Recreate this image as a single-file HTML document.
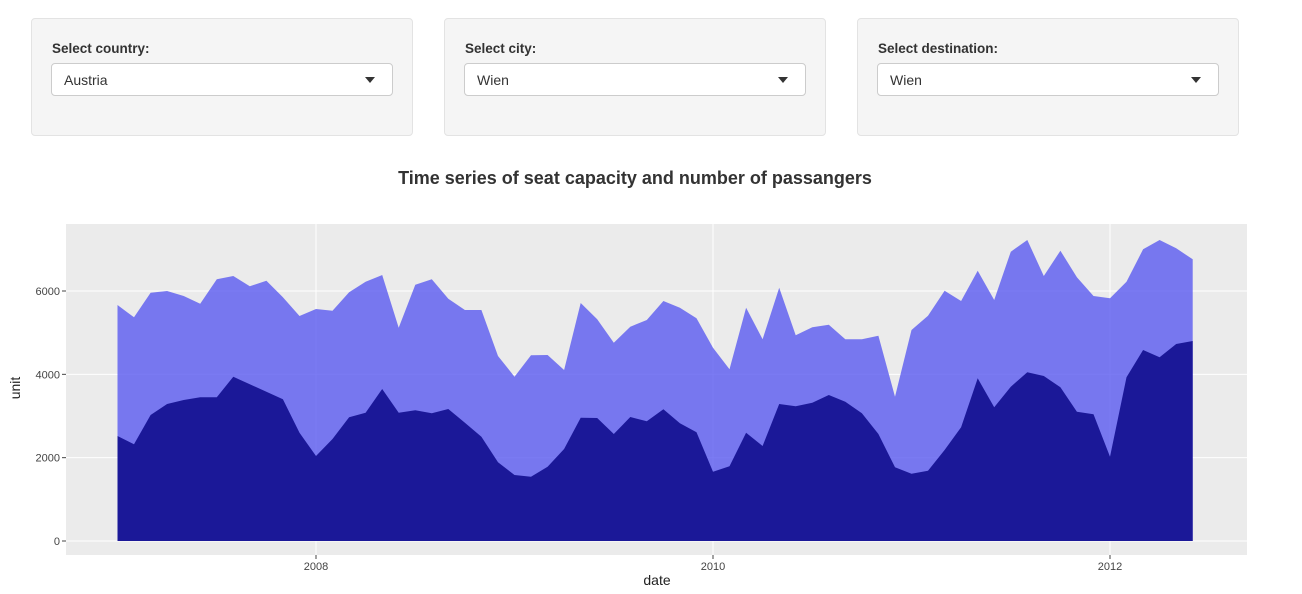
<!DOCTYPE html>
<html><head><meta charset="utf-8"><style>
body{margin:0;width:1302px;height:594px;background:#fff;font-family:"Liberation Sans",sans-serif;position:relative;overflow:hidden}
.well{position:absolute;top:18px;width:380px;height:116px;background:#f5f5f5;border:1px solid #e3e3e3;border-radius:4px}
.lbl{position:absolute;left:20px;top:22px;font-weight:bold;font-size:13.5px;color:#333}
.sel{position:absolute;left:19px;top:44px;width:342px;height:33px;background:#fff;border:1px solid #ccc;border-radius:4px;font-size:14px;color:#333;line-height:32px;padding-left:12px;box-sizing:border-box}
.sel:after{content:"";position:absolute;right:17px;top:13px;border-left:5px solid transparent;border-right:5px solid transparent;border-top:6px solid #333}
</style></head><body>
<div class="well" style="left:31px"><div class="lbl">Select country:</div><div class="sel">Austria</div></div>
<div class="well" style="left:444px"><div class="lbl">Select city:</div><div class="sel">Wien</div></div>
<div class="well" style="left:857px"><div class="lbl">Select destination:</div><div class="sel">Wien</div></div>
<svg id="chart" width="1302" height="594" style="position:absolute;left:0;top:0"></svg>
<script>
const startYear=2007, startMonth=0;
const capacity=[5664,5368,5960,6000,5880,5696,6280,6360,6112,6248,5848,5400,5568,5528,5968,6224,6384,5120,6152,6280,5816,5544,5544,4440,3944,4456,4464,4104,5712,5320,4760,5144,5304,5760,5600,5344,4640,4120,5600,4840,6080,4936,5128,5192,4840,4840,4928,3464,5064,5408,6008,5760,6488,5784,6944,7224,6360,6968,6328,5880,5824,6224,7000,7224,7024,6760];
const passengers=[2520,2320,3024,3288,3384,3448,3448,3944,3760,3584,3400,2600,2040,2448,2968,3080,3648,3080,3136,3064,3168,2840,2504,1888,1584,1544,1784,2208,2960,2952,2568,2976,2872,3160,2824,2608,1664,1792,2600,2280,3288,3232,3320,3504,3344,3064,2568,1768,1616,1688,2184,2728,3904,3208,3704,4048,3960,3688,3104,3040,2024,3928,4584,4408,4728,4800];
const yTicks=[0,2000,4000,6000];
const xTicks=[2008,2010,2012];
const NS="http://www.w3.org/2000/svg";
const svg=document.getElementById('chart');
const px0=66,px1=1247,py0=224,py1=555;
const xs=t=>316+(t-2008)*198.5;
const ys=v=>541-v*0.041667;
const tOf=i=>startYear+(startMonth+i)/12;
function mk(tag,a){const e=document.createElementNS(NS,tag);for(const k in a)e.setAttribute(k,a[k]);svg.appendChild(e);return e;}
const bg=mk('rect',{x:px0,y:py0,width:px1-px0,height:py1-py0,fill:'#ebebeb'});


yTicks.forEach(v=>{const l=mk('line',{x1:px0,x2:px1,y1:ys(v),y2:ys(v),stroke:'#fff','stroke-width':1});


const tk=mk('line',{x1:px0-4,x2:px0,y1:ys(v),y2:ys(v),stroke:'#444'});


const t=mk('text',{x:px0-6,y:ys(v)+4,'text-anchor':'end','font-size':11,fill:'#444'});t.textContent=v;

});
xTicks.forEach(v=>{const l=mk('line',{x1:xs(v),x2:xs(v),y1:py0,y2:py1,stroke:'#fff','stroke-width':1});


const tk=mk('line',{x1:xs(v),x2:xs(v),y1:py1,y2:py1+4,stroke:'#444'});


const t=mk('text',{x:xs(v),y:py1+15,'text-anchor':'middle','font-size':11,fill:'#444'});t.textContent=v;

});
function area(vals,fill,name){let d='M'+xs(tOf(0))+','+ys(0);vals.forEach((v,i)=>d+='L'+xs(tOf(i)).toFixed(1)+','+ys(v).toFixed(1));d+='L'+xs(tOf(vals.length-1))+','+ys(0)+'Z';
const p=mk('path',{d:d,fill:fill});

}
area(capacity,'rgba(90,90,240,0.8)','seat-capacity-area');
area(passengers,'#1b1898','passengers-area');
const title=mk('text',{x:635,y:184,'text-anchor':'middle','font-size':18,'font-weight':'bold',fill:'#333'});title.textContent='Time series of seat capacity and number of passangers';


const xl=mk('text',{x:657,y:585,'text-anchor':'middle','font-size':14,fill:'#222'});xl.textContent='date';


const yl=mk('text',{x:20,y:388,'text-anchor':'middle','font-size':14,fill:'#222',transform:'rotate(-90 20 388)'});yl.textContent='unit';


</script>
</body></html>
